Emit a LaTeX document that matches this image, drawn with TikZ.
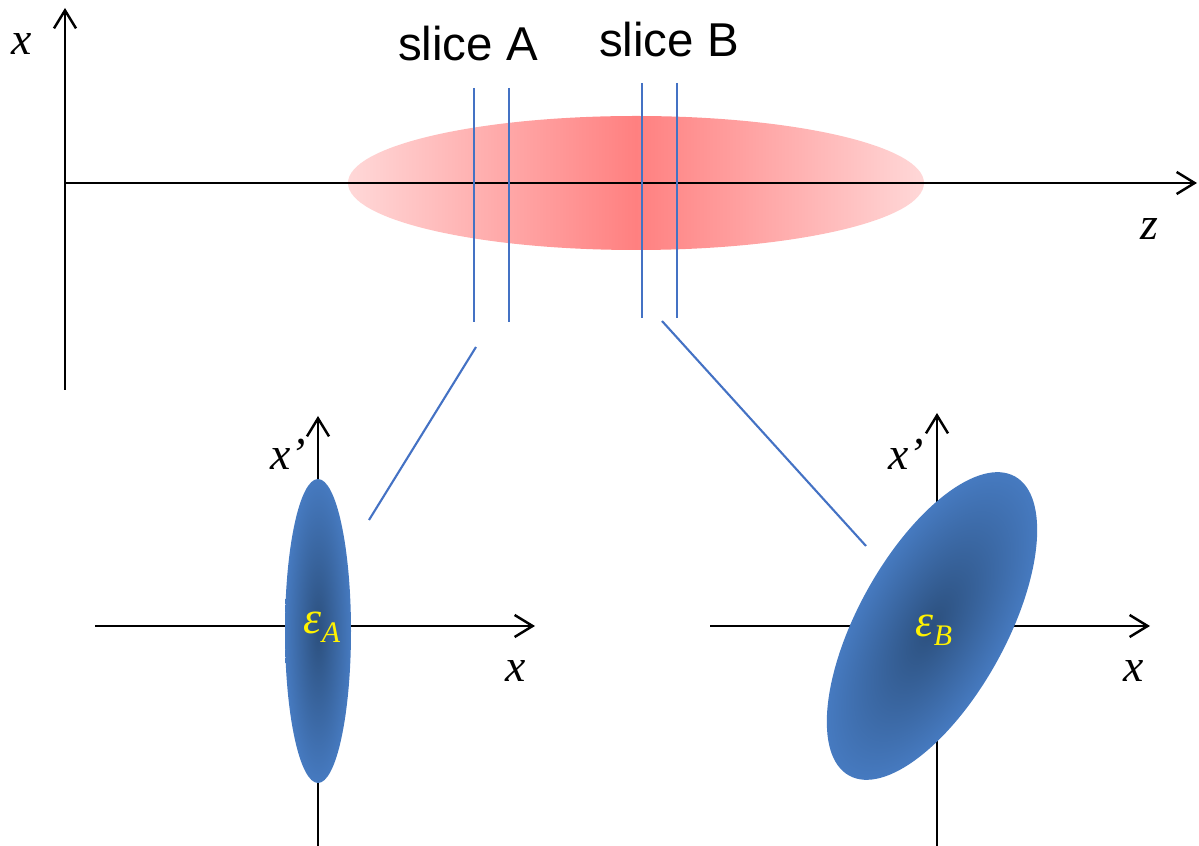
\documentclass[tikz,border=0pt]{standalone}
\usepackage{fontspec}
\setmainfont{Liberation Sans}
\newfontfamily\tnr{Liberation Serif}
\usepackage{xcolor}
\usetikzlibrary{arrows.meta, positioning}

\definecolor{beamcore}{RGB}{255,128,128}
\definecolor{beamedge}{RGB}{255,216,216}
\definecolor{slicecol}{RGB}{68,114,196}
\definecolor{phasecore}{RGB}{44,80,126}
\definecolor{phaseedge}{RGB}{70,122,192}

\pgfdeclareradialshading{phaseshade}{\pgfpoint{0bp}{0bp}}{color(0bp)=(phasecore); color(25bp)=(phaseedge); color(50bp)=(phaseedge)}

\begin{document}
\begin{tikzpicture}[x=0.01cm, y=-0.01cm,
    axis/.style={line width=0.6pt, -{Straight Barb[length=1.8mm, width=2.2mm, line width=0.7pt]}},
    slice/.style={draw=slicecol, line width=0.6pt},
    varlabel/.style={font=\tnr\itshape\fontsize{13}{15}\selectfont, anchor=base, inner sep=0pt},
    slicelabel/.style={font=\fontsize{13.5}{16}\selectfont, anchor=base, inner sep=0pt},
    emitlabel/.style={text=yellow, font=\tnr\itshape\fontsize{13}{15}\selectfont, inner sep=0pt}
  ]
    \useasboundingbox (0,0) rectangle (1199,846);

    % bunch in the (z,x) plane
    \shade[left color=beamedge, right color=beamedge, middle color=beamcore] (636,183) ellipse [x radius=288, y radius=67];

    \coordinate (zorigin) at (65,183);
    \coordinate (zend) at (1197,183);
    \coordinate (xlow) at (65,390);
    \coordinate (xtop) at (65,8);
    \draw [axis] (zorigin) -- (zend);
    \draw [axis] (xlow) -- (xtop);
    \node (xlab) [varlabel] at (22,55) {x};
    \node (zlab) [varlabel] at (1149,240) {z};

    % slices
    \coordinate (a1top) at (474,88);  \coordinate (a1bot) at (474,322);
    \coordinate (a2top) at (509,88);  \coordinate (a2bot) at (509,322);
    \coordinate (b1top) at (642,83);  \coordinate (b1bot) at (642,318);
    \coordinate (b2top) at (677,83);  \coordinate (b2bot) at (677,318);
    \draw [slice] (a1top) -- (a1bot);
    \draw [slice] (a2top) -- (a2bot);
    \draw [slice] (b1top) -- (b1bot);
    \draw [slice] (b2top) -- (b2bot);
    \node (sliceA) [slicelabel] at (468,61) {slice A};
    \node (sliceB) [slicelabel] at (669,57) {slice B};

    % phase space of slice A
    \coordinate (Aleft) at (95,626);
    \coordinate (Aright) at (535,626);
    \coordinate (Abot) at (318,846);
    \coordinate (Atop) at (318,416);
    \draw [axis] (Aleft) -- (Aright);
    \draw [axis] (Abot) -- (Atop);
    \shade[shading=phaseshade] (318,631) ellipse [x radius=33, y radius=152];
    \node (xpA) [varlabel] at (288,470) {x’};
    \node (xA) [varlabel] at (516,682) {x};
    \node (epsA) [emitlabel] at (322,627) {ε\raisebox{-0.45ex}{\fontsize{8.5}{10}\selectfont A}};

    % phase space of slice B
    \coordinate (Bleft) at (710,626);
    \coordinate (Bright) at (1150,626);
    \coordinate (Bbot) at (937,846);
    \coordinate (Btop) at (937,413);
    \draw [axis] (Bleft) -- (Bright);
    \draw [axis] (Bbot) -- (Btop);
    \begin{scope}[transform canvas={shift={(932,626)}, rotate=61}]
      \shade[shading=phaseshade] (0,0) ellipse [x radius=171, y radius=74];
    \end{scope}
    \node (xpB) [varlabel] at (906,470) {x’};
    \node (xB) [varlabel] at (1134,682) {x};
    \node (epsB) [emitlabel] at (934,630) {ε\raisebox{-0.45ex}{\fontsize{8.5}{10}\selectfont B}};

    % zoom lines
    \coordinate (zoomAfrom) at (476,347);
    \coordinate (zoomAto) at (369,520);
    \coordinate (zoomBfrom) at (662,321);
    \coordinate (zoomBto) at (866,546);
    \draw [slice] (zoomAfrom) -- (zoomAto);
    \draw [slice] (zoomBfrom) -- (zoomBto);
\end{tikzpicture}
\end{document}
